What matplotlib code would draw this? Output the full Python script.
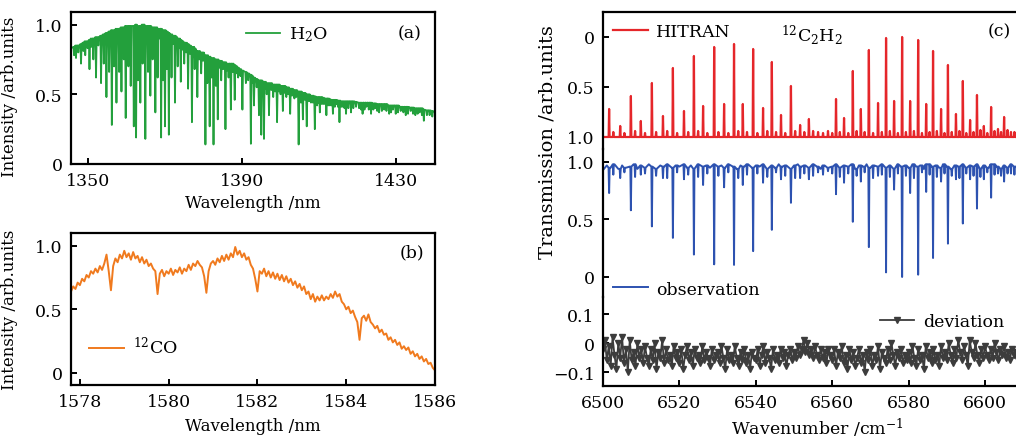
# -*- coding: utf-8 -*-
"""
Absorption spectra: H2O and 12CO intensity, 12C2H2 transmission vs HITRAN
"""
import numpy as np
import matplotlib
matplotlib.use('Agg')
import matplotlib.pyplot as plt

# ---------------- (a) H2O spectrum ----------------
h2o_edge_nm = [1345.5, 1440.0]
h2o_edge_val = [0.83, 0.37]
# strong absorption dips: centre (nm), minimum, local top of the band
h2o_dip_nm = [1346.8, 1348.1, 1349.2, 1350.3, 1351.3, 1352.0, 1353.3, 1354.0, 1354.7, 1355.4,
              1356.1, 1356.7, 1357.3, 1358.0, 1358.6, 1359.2, 1359.7, 1360.4, 1361.0, 1361.8,
              1362.4, 1362.9, 1363.5, 1364.1, 1364.8, 1365.5, 1366.1, 1366.7, 1367.4, 1368.0,
              1368.9, 1369.4, 1369.9, 1370.4, 1370.9, 1371.6, 1372.5, 1373.2, 1374.0, 1374.9,
              1375.9, 1376.9, 1377.6, 1378.3, 1379.3, 1380.4, 1380.9, 1381.5, 1382.0, 1382.5,
              1383.1, 1383.6, 1384.5, 1385.6, 1386.4, 1387.0, 1388.0, 1388.9, 1390.0, 1390.9,
              1392.2, 1393.0, 1393.7, 1394.3, 1394.9, 1395.6, 1396.3, 1396.9, 1398.0, 1399.0,
              1399.9, 1400.5, 1401.4, 1402.4, 1403.5, 1404.6, 1405.2, 1405.7, 1406.7, 1407.8,
              1408.8, 1409.4, 1410.1, 1411.0, 1411.8, 1412.7, 1413.5, 1414.4, 1415.2, 1416.1,
              1416.9, 1418.2, 1419.5, 1421.2, 1422.2, 1423.4, 1424.5, 1425.5, 1426.8, 1428.1,
              1429.1, 1429.8, 1431.1, 1432.4, 1433.7, 1434.9, 1436.0, 1437.1, 1437.9]
h2o_dip_min = [0.76, 0.72, 0.78, 0.68, 0.75, 0.62, 0.58, 0.72, 0.48, 0.66,
               0.28, 0.70, 0.44, 0.66, 0.52, 0.75, 0.33, 0.70, 0.56, 0.27,
               0.19, 0.60, 0.44, 0.72, 0.18, 0.66, 0.49, 0.75, 0.37, 0.62,
               0.19, 0.60, 0.27, 0.68, 0.21, 0.62, 0.44, 0.70, 0.59, 0.72,
               0.54, 0.30, 0.68, 0.48, 0.65, 0.14, 0.58, 0.27, 0.62, 0.14,
               0.56, 0.32, 0.60, 0.25, 0.62, 0.39, 0.46, 0.62, 0.39, 0.58,
               0.145, 0.42, 0.55, 0.35, 0.21, 0.18, 0.50, 0.35, 0.48, 0.30,
               0.50, 0.38, 0.48, 0.36, 0.47, 0.14, 0.44, 0.32, 0.27, 0.44,
               0.25, 0.42, 0.37, 0.43, 0.35, 0.42, 0.36, 0.43, 0.30, 0.41,
               0.36, 0.37, 0.41, 0.36, 0.41, 0.36, 0.40, 0.37, 0.39, 0.36,
               0.39, 0.36, 0.38, 0.35, 0.38, 0.35, 0.37, 0.31, 0.35]
h2o_dip_top = [0.85, 0.86, 0.88, 0.89, 0.90, 0.91, 0.92, 0.93, 0.94, 0.95,
               0.96, 0.96, 0.97, 0.97, 0.98, 0.98, 0.99, 0.99, 0.99, 0.99,
               1.00, 0.98, 0.99, 1.00, 0.99, 0.99, 0.99, 0.98, 0.98, 0.97,
               0.97, 0.96, 0.96, 0.95, 0.94, 0.93, 0.92, 0.90, 0.89, 0.87,
               0.86, 0.84, 0.83, 0.81, 0.80, 0.78, 0.78, 0.77, 0.76, 0.76,
               0.75, 0.75, 0.74, 0.73, 0.72, 0.72, 0.71, 0.69, 0.67, 0.66,
               0.64, 0.62, 0.61, 0.60, 0.60, 0.59, 0.58, 0.58, 0.57, 0.57,
               0.56, 0.56, 0.55, 0.54, 0.53, 0.52, 0.52, 0.51, 0.50, 0.49,
               0.485, 0.48, 0.48, 0.475, 0.47, 0.465, 0.46, 0.46, 0.455, 0.45,
               0.45, 0.45, 0.445, 0.44, 0.44, 0.44, 0.435, 0.43, 0.43, 0.42,
               0.42, 0.42, 0.41, 0.41, 0.405, 0.40, 0.40, 0.39, 0.385]
# shallow lines filling the band: centre (nm) and minimum
h2o_weak_nm = [1346.3, 1347.4, 1348.7, 1349.8, 1350.8, 1352.6, 1355.1, 1357.6, 1358.9, 1360.7,
               1363.2, 1364.4, 1365.8, 1367.7, 1368.5, 1371.2, 1372.0, 1372.9, 1373.6, 1374.5,
               1375.4, 1376.4, 1377.3, 1378.8, 1379.8, 1381.2, 1384.0, 1385.0, 1386.0, 1387.5,
               1388.5, 1389.5, 1391.5, 1392.6, 1395.9, 1397.5, 1398.5, 1399.5, 1401.0, 1401.9,
               1402.9, 1404.0, 1406.2, 1407.3, 1408.3, 1409.8, 1410.6, 1411.4, 1412.3, 1413.1,
               1414.0, 1414.8, 1415.7, 1416.5, 1417.5, 1418.8, 1420.3, 1420.8, 1421.7, 1422.8,
               1424.0, 1425.0, 1426.2, 1427.4, 1428.6, 1430.4, 1431.8, 1433.0, 1434.3, 1435.5,
               1436.6, 1438.6, 1439.3]
h2o_weak_min = [0.78, 0.80, 0.81, 0.83, 0.84, 0.85, 0.88, 0.90, 0.91, 0.92,
                0.92, 0.93, 0.92, 0.91, 0.90, 0.87, 0.86, 0.85, 0.83, 0.82,
                0.80, 0.79, 0.77, 0.75, 0.74, 0.72, 0.69, 0.68, 0.67, 0.66,
                0.65, 0.63, 0.60, 0.58, 0.54, 0.53, 0.52, 0.52, 0.51, 0.50,
                0.49, 0.48, 0.46, 0.45, 0.44, 0.44, 0.43, 0.43, 0.42, 0.42,
                0.41, 0.41, 0.41, 0.40, 0.40, 0.40, 0.40, 0.39, 0.39, 0.39,
                0.39, 0.38, 0.38, 0.38, 0.37, 0.37, 0.37, 0.36, 0.36, 0.36,
                0.35, 0.35, 0.34]
h2o_weak_top = [0.84, 0.85, 0.87, 0.88, 0.90, 0.91, 0.94, 0.96, 0.98, 0.99,
                0.99, 1.00, 0.99, 0.98, 0.97, 0.93, 0.92, 0.91, 0.90, 0.88,
                0.87, 0.85, 0.84, 0.81, 0.80, 0.77, 0.74, 0.73, 0.72, 0.72,
                0.70, 0.68, 0.65, 0.63, 0.59, 0.58, 0.57, 0.57, 0.56, 0.55,
                0.54, 0.53, 0.51, 0.50, 0.49, 0.48, 0.48, 0.47, 0.47, 0.46,
                0.46, 0.455, 0.45, 0.45, 0.45, 0.45, 0.44, 0.44, 0.44, 0.44,
                0.435, 0.43, 0.43, 0.43, 0.42, 0.42, 0.41, 0.41, 0.405, 0.40,
                0.40, 0.385, 0.38]

# ---------------- (b) 12CO spectrum, 0.05 nm steps from 1577.80 nm ----------------
co_start, co_step = 1577.80, 0.05
co_val = [0.64, 0.68, 0.66, 0.71, 0.69, 0.74, 0.72, 0.77, 0.75, 0.80,
          0.78, 0.82, 0.79, 0.84, 0.81, 0.86, 0.93, 0.80, 0.65, 0.84,
          0.90, 0.87, 0.93, 0.90, 0.96, 0.91, 0.94, 0.89, 0.95, 0.90,
          0.92, 0.87, 0.91, 0.86, 0.89, 0.84, 0.86, 0.82, 0.80, 0.62,
          0.78, 0.81, 0.76, 0.80, 0.78, 0.82, 0.77, 0.81, 0.79, 0.83,
          0.78, 0.82, 0.80, 0.85, 0.81, 0.86, 0.84, 0.88, 0.85, 0.83,
          0.76, 0.63, 0.80, 0.86, 0.88, 0.85, 0.90, 0.87, 0.92, 0.88,
          0.93, 0.89, 0.94, 0.91, 0.99, 0.93, 0.96, 0.91, 0.94, 0.89,
          0.91, 0.85, 0.82, 0.74, 0.64, 0.80, 0.78, 0.82, 0.76, 0.80,
          0.75, 0.79, 0.74, 0.78, 0.73, 0.77, 0.72, 0.76, 0.71, 0.74,
          0.69, 0.72, 0.67, 0.70, 0.65, 0.68, 0.62, 0.64, 0.58, 0.62,
          0.56, 0.60, 0.57, 0.61, 0.57, 0.60, 0.58, 0.62, 0.59, 0.64,
          0.60, 0.62, 0.56, 0.54, 0.50, 0.52, 0.47, 0.49, 0.44, 0.40,
          0.26, 0.43, 0.45, 0.41, 0.46, 0.40, 0.38, 0.35, 0.37, 0.32,
          0.34, 0.30, 0.31, 0.26, 0.28, 0.24, 0.26, 0.22, 0.24, 0.19,
          0.21, 0.18, 0.20, 0.15, 0.17, 0.13, 0.15, 0.11, 0.13, 0.09,
          0.11, 0.07, 0.08, 0.04, 0.02]

# ---------------- (c) 12C2H2 lines ----------------
c2h2_wn = [6501.6, 6504.5, 6507.3, 6509.9, 6512.8, 6515.7, 6518.3, 6521.2, 6523.8, 6526.2,
           6529.1, 6531.7, 6534.3, 6536.6, 6539.3, 6541.9, 6544.2, 6546.6, 6549.2, 6551.6,
           6553.9, 6561.0, 6563.1, 6565.4, 6567.5, 6569.6, 6572.0, 6574.1, 6576.2, 6578.3,
           6580.4, 6582.5, 6584.6, 6586.4, 6588.5, 6590.3, 6592.4, 6594.2, 6596.1, 6597.9,
           6599.7, 6601.6, 6603.4, 6605.0, 6606.8]
hitran_T = [0.72, 0.89, 0.59, 0.84, 0.46, 0.79, 0.31, 0.74, 0.19, 0.69,
            0.10, 0.67, 0.07, 0.67, 0.12, 0.71, 0.25, 0.78, 0.49, 0.88,
            0.82, 0.62, 0.81, 0.34, 0.72, 0.13, 0.66, 0.01, 0.64, 0.00,
            0.64, 0.03, 0.67, 0.14, 0.72, 0.28, 0.77, 0.44, 0.83, 0.58,
            0.89, 0.70, 0.92, 0.80, 0.95]
obs_T = [0.73, 0.86, 0.58, 0.89, 0.44, 0.86, 0.34, 0.85, 0.195, 0.80,
         0.11, 0.78, 0.105, 0.80, 0.225, 0.82, 0.41, 0.85, 0.645, 0.86,
         0.85, 0.72, 0.82, 0.48, 0.83, 0.26, 0.88, 0.04, 0.76, 0.00,
         0.73, 0.02, 0.74, 0.165, 0.83, 0.29, 0.85, 0.465, 0.85, 0.595,
         0.85, 0.69, 0.90, 0.83, 0.90]
weak_wn = [6502.7, 6505.6, 6508.4, 6511.0, 6513.9, 6516.8, 6519.4, 6522.3, 6524.9, 6527.3,
           6530.2, 6532.8, 6535.4, 6537.7, 6540.4, 6543.0, 6545.3, 6547.7, 6550.3, 6552.7,
           6555.0, 6556.3, 6557.6, 6558.9, 6560.0, 6562.0, 6564.2, 6566.4, 6568.5, 6570.7,
           6573.0, 6575.1, 6577.2, 6579.3, 6581.4, 6583.5, 6585.5, 6587.4, 6589.4, 6591.3,
           6593.3, 6595.1, 6597.0, 6598.8, 6600.6, 6602.5, 6604.2, 6605.9, 6607.7]
weak_hitran_T = [0.95, 0.96, 0.94, 0.96, 0.95, 0.94, 0.96, 0.95, 0.94, 0.96,
                 0.95, 0.96, 0.94, 0.95, 0.96, 0.94, 0.95, 0.96, 0.94, 0.95,
                 0.94, 0.95, 0.96, 0.94, 0.96, 0.95, 0.96, 0.94, 0.95, 0.96,
                 0.95, 0.94, 0.96, 0.95, 0.94, 0.96, 0.95, 0.94, 0.96, 0.95,
                 0.94, 0.96, 0.95, 0.93, 0.96, 0.94, 0.95, 0.93, 0.95]
weak_obs_T = [0.89, 0.91, 0.87, 0.90, 0.88, 0.86, 0.91, 0.89, 0.87, 0.90,
              0.88, 0.91, 0.86, 0.89, 0.90, 0.87, 0.91, 0.88, 0.86, 0.90,
              0.88, 0.91, 0.89, 0.92, 0.90, 0.87, 0.90, 0.88, 0.91, 0.86,
              0.89, 0.87, 0.90, 0.88, 0.86, 0.91, 0.89, 0.87, 0.90, 0.88,
              0.86, 0.90, 0.88, 0.87, 0.91, 0.89, 0.88, 0.90, 0.89]
# observed baseline, 1 cm-1 steps from 6500 cm-1
obs_base_start = 6500.0
obs_base = [0.93, 0.97, 0.95, 0.98, 0.94, 0.97, 0.95, 0.96, 0.98, 0.94,
            0.97, 0.95, 0.98, 0.96, 0.94, 0.97, 0.96, 0.98, 0.95, 0.97,
            0.96, 0.98, 0.95, 0.97, 0.94, 0.98, 0.96, 0.97, 0.95, 0.98,
            0.96, 0.97, 0.95, 0.98, 0.96, 0.94, 0.97, 0.96, 0.98, 0.95,
            0.97, 0.96, 0.98, 0.94, 0.97, 0.95, 0.98, 0.96, 0.97, 0.94,
            0.97, 0.98, 0.96, 0.97, 0.95, 0.98, 0.96, 0.94, 0.97, 0.95,
            0.96, 0.98, 0.95, 0.97, 0.96, 0.98, 0.94, 0.97, 0.96, 0.98,
            0.95, 0.97, 0.96, 0.98, 0.95, 0.97, 0.94, 0.98, 0.96, 0.97,
            0.95, 0.98, 0.96, 0.97, 0.94, 0.98, 0.96, 0.97, 0.95, 0.98,
            0.96, 0.94, 0.97, 0.96, 0.98, 0.95, 0.97, 0.96, 0.98, 0.94,
            0.97, 0.95, 0.98, 0.96, 0.94, 0.97, 0.95, 0.98, 0.96, 0.95]
# deviation (observation - HITRAN), 0.5 cm-1 steps from 6500 cm-1
dev_start, dev_step = 6500.0, 0.5
deviation = [-0.02, 0.01, -0.06, -0.01, -0.08, 0.02, -0.04, -0.09, 0.00, -0.05,
             0.02, -0.07, -0.02, -0.10, 0.01, -0.06, -0.03, -0.08, 0.00, -0.05,
             -0.02, -0.07, -0.01, -0.05, -0.08, -0.02, -0.06, 0.00, -0.09, -0.03,
             -0.05, 0.01, -0.07, -0.02, -0.06, -0.04, -0.08, -0.01, -0.05, -0.03,
             -0.07, -0.02, -0.09, -0.04, -0.01, -0.06, -0.03, -0.08, -0.02, -0.05,
             -0.04, -0.07, -0.01, -0.06, -0.03, -0.05, -0.08, -0.02, -0.06, -0.04,
             -0.03, -0.07, -0.01, -0.05, -0.09, -0.02, -0.06, -0.04, -0.07, -0.01,
             -0.05, -0.08, -0.03, -0.06, -0.02, -0.07, -0.04, -0.09, -0.03, -0.05,
             -0.06, -0.02, -0.08, -0.04, -0.01, -0.07, -0.03, -0.05, -0.09, -0.02,
             -0.06, -0.04, -0.07, -0.02, -0.05, -0.03, -0.08, -0.04, -0.02, -0.06,
             -0.03, -0.05, -0.01, -0.04, -0.02, 0.01, -0.03, 0.00, -0.04, -0.02,
             -0.05, -0.01, -0.04, -0.06, -0.02, -0.05, -0.03, -0.07, -0.02, -0.04,
             -0.06, -0.02, -0.08, -0.03, -0.05, -0.01, -0.07, -0.04, -0.09, -0.02,
             -0.06, -0.03, -0.08, -0.05, -0.02, -0.07, -0.04, -0.10, -0.03, -0.06,
             -0.02, -0.08, -0.04, -0.06, -0.01, -0.09, -0.03, -0.05, -0.07, -0.02,
             -0.06, 0.00, -0.04, -0.08, -0.03, -0.05, -0.02, -0.07, -0.04, -0.06,
             -0.03, -0.07, -0.01, -0.05, -0.08, -0.02, -0.06, -0.04, -0.09, -0.01,
             -0.05, -0.03, -0.07, -0.02, -0.06, -0.04, -0.08, -0.01, -0.05, -0.03,
             -0.06, 0.00, -0.04, -0.07, -0.02, -0.05, 0.01, -0.03, -0.06, -0.01,
             -0.04, -0.08, 0.01, -0.03, -0.05, 0.00, -0.04, -0.07, -0.02, -0.05,
             -0.01, -0.04, -0.06, -0.02, -0.05, 0.00, -0.03, -0.06, -0.02, -0.04,
             -0.01, -0.05, -0.03, -0.06, -0.02, -0.04, -0.03, -0.05, -0.02, -0.03]

GREEN = '#23a03c'
ORANGE = '#f07a1e'
RED = '#e5262a'
BLUE = '#2d52b0'
GREY = '#3c3c3c'


def dip_path(centres, mins, tops, half):
    """polyline vertices: each dip drawn as shoulder - minimum - shoulder"""
    order = np.argsort(centres)
    xs, ys = [], []
    for i in order:
        c, lo, hi = centres[i], mins[i], tops[i]
        xs += [c - half, c, c + half]
        ys += [hi, lo, hi]
    return xs, ys


plt.rcParams['font.family'] = ['DejaVu Serif']
plt.rcParams['mathtext.fontset'] = 'dejavuserif'
plt.rcParams['font.size'] = 12
plt.rcParams['axes.linewidth'] = 1.6
plt.rcParams['xtick.direction'] = 'in'
plt.rcParams['ytick.direction'] = 'in'
plt.rcParams['xtick.major.width'] = 1.4
plt.rcParams['ytick.major.width'] = 1.4
plt.rcParams['xtick.major.size'] = 4
plt.rcParams['ytick.major.size'] = 4
plt.rcParams['xtick.major.pad'] = 6
plt.rcParams['ytick.major.pad'] = 6
plt.rcParams['xtick.labelsize'] = 12.5
plt.rcParams['ytick.labelsize'] = 12.5

W, H = 1016, 439
fig = plt.figure(figsize=(W / 100, H / 100), dpi=100)


def px_axes(left, top, right, bottom):
    return fig.add_axes([left / W, 1 - bottom / H, (right - left) / W, (bottom - top) / H])


leg_kw = dict(frameon=False, borderpad=0, borderaxespad=0, handlelength=2.0,
              handletextpad=0.5, fontsize=12.5)

# ---- (a) ----
ax_a = px_axes(71, 13, 435, 165)
xs, ys = dip_path(h2o_dip_nm + h2o_weak_nm, h2o_dip_min + h2o_weak_min,
                  h2o_dip_top + h2o_weak_top, 0.16)
xs = [h2o_edge_nm[0]] + xs + [h2o_edge_nm[1]]
ys = [h2o_edge_val[0]] + ys + [h2o_edge_val[1]]
ax_a.plot(xs, ys, color=GREEN, lw=1.3, label='H$_2$O')
ax_a.set_xlim(1345.5, 1440)
ax_a.set_ylim(0, 1.09)
ax_a.set_xticks([1350, 1390, 1430])
ax_a.set_yticks([0, 0.5, 1.0])
ax_a.set_yticklabels(['0', '0.5', '1.0'])
ax_a.set_xlabel('Wavelength /nm')
ax_a.set_ylabel('Intensity /arb.units')
ax_a.xaxis.set_label_coords(0.5, -0.2)
ax_a.yaxis.set_label_coords(-0.145, 0.45)
ax_a.legend(loc='center left', bbox_to_anchor=(0.48, 0.855), **leg_kw)
ax_a.text(0.93, 0.865, '(a)', transform=ax_a.transAxes, ha='center', va='center', fontsize=12.5)

# ---- (b) ----
ax_b = px_axes(71, 234, 435, 386)
co_nm = co_start + co_step * np.arange(len(co_val))
ax_b.plot(co_nm, co_val, color=ORANGE, lw=1.4, label='$^{12}$CO')
ax_b.set_xlim(1577.8, 1586)
ax_b.set_ylim(-0.095, 1.1)
ax_b.set_xticks([1578, 1580, 1582, 1584, 1586])
ax_b.set_yticks([0, 0.5, 1.0])
ax_b.set_yticklabels(['0', '0.5', '1.0'])
ax_b.set_xlabel('Wavelength /nm')
ax_b.set_ylabel('Intensity /arb.units')
ax_b.xaxis.set_label_coords(0.5, -0.21)
ax_b.yaxis.set_label_coords(-0.145, 0.5)
ax_b.legend(loc='center left', bbox_to_anchor=(0.05, 0.25), **leg_kw)
ax_b.text(0.937, 0.875, '(b)', transform=ax_b.transAxes, ha='center', va='center', fontsize=12.5)

# ---- (c) ----
wn_max = 6500 + (W - 603) / 3.82
ax_t = px_axes(603, 13, W, 150)
ax_m = px_axes(603, 150, W, 298)
ax_d = px_axes(603, 298, W, 387)

# HITRAN: lines on a flat unit baseline
lx, ly = dip_path(c2h2_wn + weak_wn, hitran_T + weak_hitran_T,
                  [1.0] * (len(c2h2_wn) + len(weak_wn)), 0.12)
ax_t.plot([6500] + lx + [6612], [1.0] + ly + [1.0], color=RED, lw=1.6, label='HITRAN')
ax_t.set_ylim(1.12, -0.25)
ax_t.set_yticks([0, 0.5, 1.0])
ax_t.set_yticklabels(['0', '0.5', '1.0'])

# observation: noisy baseline with the same lines
base_wn = obs_base_start + np.arange(len(obs_base))
dip_c = np.array(c2h2_wn + weak_wn)
dip_v = obs_T + weak_obs_T
dip_top = [obs_base[int(np.abs(base_wn - c).argmin())] for c in dip_c]
dx, dy = dip_path(dip_c, dip_v, dip_top, 0.14)
keep = [i for i, w in enumerate(base_wn) if np.min(np.abs(dip_c - w)) > 0.3]
pts = sorted(list(zip(dx, dy)) + [(base_wn[i], obs_base[i]) for i in keep])
ax_m.plot([p[0] for p in pts], [p[1] for p in pts], color=BLUE, lw=1.4, label='observation')
ax_m.set_ylim(-0.174, 1.113)
ax_m.set_yticks([0, 0.5, 1.0])
ax_m.set_yticklabels(['0', '0.5', '1.0'])

# deviation
dev_wn = dev_start + dev_step * np.arange(len(deviation))
ax_d.plot(dev_wn, deviation, color=GREY, lw=1.3, marker='v', ms=5, label='deviation')
ax_d.set_ylim(-0.148, 0.159)
ax_d.set_yticks([-0.1, 0, 0.1])
ax_d.set_yticklabels(['\u22120.1', '0', '0.1'])
ax_d.set_xticks([6500, 6520, 6540, 6560, 6580, 6600])
ax_d.set_xlabel('Wavenumber /cm$^{-1}$', fontsize=12.5)
ax_d.xaxis.set_label_coords(0.518, -0.33)

for ax in (ax_t, ax_m, ax_d):
    ax.set_xlim(6500, wn_max)
    ax.spines['right'].set_visible(False)
    ax.patch.set_alpha(0)
for ax in (ax_t, ax_m):
    ax.spines['bottom'].set_visible(False)
    ax.tick_params(axis='x', bottom=False, labelbottom=False)
ax_m.spines['top'].set_visible(False)
ax_d.spines['top'].set_visible(False)

ax_t.legend(loc='center left', bbox_to_anchor=(0.024, 0.86), **leg_kw)
ax_t.text(0.43, 0.84, '$^{12}$C$_2$H$_2$', transform=ax_t.transAxes, ha='left', va='center',
          fontsize=12.5)
ax_t.text(0.96, 0.86, '(c)', transform=ax_t.transAxes, ha='center', va='center', fontsize=12.5)
ax_m.legend(loc='center left', bbox_to_anchor=(0.024, 0.054), **leg_kw)
ax_d.legend(loc='center left', bbox_to_anchor=(0.67, 0.72), **leg_kw)

fig.text(548 / W, 1 - 142 / H, 'Transmission /arb.units', rotation=90,
         ha='center', va='center', fontsize=14)

fig.savefig('out.png', dpi=100)
plt.close(fig)
